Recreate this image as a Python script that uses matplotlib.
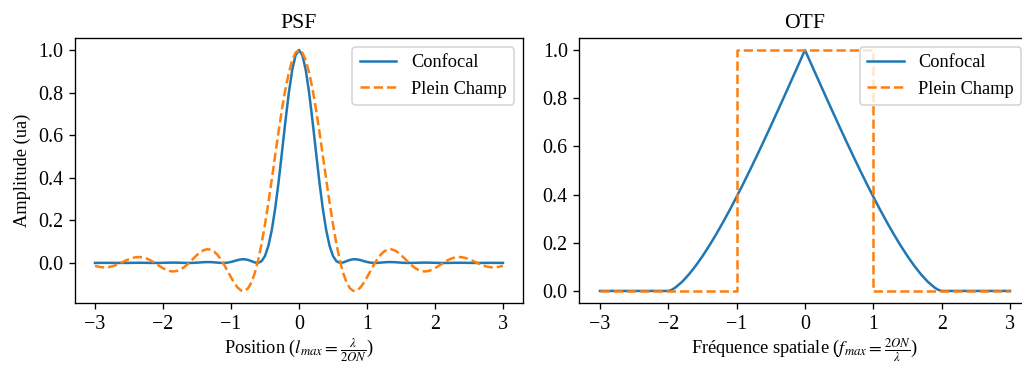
import numpy as np
import matplotlib
matplotlib.use("Agg")
import matplotlib.pyplot as plt

plt.rcParams["font.family"] = ["Liberation Serif", "DejaVu Serif"]
plt.rcParams["mathtext.fontset"] = "stix"
plt.rcParams["xtick.labelsize"] = 12
plt.rcParams["ytick.labelsize"] = 12
plt.rcParams["axes.labelsize"] = 11
plt.rcParams["legend.fontsize"] = 11

# ---- PSF (amplitude), sampled every 0.05 from -3 to 3 ----
psf_x = np.linspace(-3.0, 3.0, 121)

psf_widefield = [
    -0.0135, -0.0176, -0.0202, -0.0209, -0.0195, -0.0161, -0.0108, -0.0042, 0.0032, 0.0108,
    0.0177, 0.0233, 0.0268, 0.0279, 0.0262, 0.0218, 0.0149, 0.0059, -0.0043, -0.0148,
    -0.0246, -0.0326, -0.0381, -0.0400, -0.0380, -0.0320, -0.0222, -0.0092, 0.0060, 0.0221,
    0.0375, 0.0507, 0.0601, 0.0644, 0.0624, 0.0538, 0.0385, 0.0171, -0.0091, -0.0381,
    -0.0677, -0.0947, -0.1164, -0.1296, -0.1315, -0.1195, -0.0920, -0.0476, 0.0134, 0.0903,
    0.1812, 0.2833, 0.3929, 0.5057, 0.6170, 0.7217, 0.8152, 0.8930, 0.9515, 0.9877,
    1.0000,
    0.9877, 0.9515, 0.8930, 0.8152, 0.7217, 0.6170, 0.5057, 0.3929, 0.2833, 0.1812,
    0.0903, 0.0134, -0.0476, -0.0920, -0.1195, -0.1315, -0.1296, -0.1164, -0.0947, -0.0677,
    -0.0381, -0.0091, 0.0171, 0.0385, 0.0538, 0.0624, 0.0644, 0.0601, 0.0507, 0.0375,
    0.0221, 0.0060, -0.0092, -0.0222, -0.0320, -0.0380, -0.0400, -0.0381, -0.0326, -0.0246,
    -0.0148, -0.0043, 0.0059, 0.0149, 0.0218, 0.0262, 0.0279, 0.0268, 0.0233, 0.0177,
    0.0108, 0.0032, -0.0042, -0.0108, -0.0161, -0.0195, -0.0209, -0.0202, -0.0176, -0.0135,
]

psf_confocal = [
    0.0002, 0.0003, 0.0004, 0.0004, 0.0004, 0.0003, 0.0001, 0.0000, 0.0000, 0.0001,
    0.0003, 0.0005, 0.0007, 0.0008, 0.0007, 0.0005, 0.0002, 0.0000, 0.0000, 0.0002,
    0.0006, 0.0011, 0.0014, 0.0016, 0.0014, 0.0010, 0.0005, 0.0001, 0.0000, 0.0005,
    0.0014, 0.0026, 0.0036, 0.0041, 0.0039, 0.0029, 0.0015, 0.0003, 0.0001, 0.0015,
    0.0046, 0.0090, 0.0136, 0.0168, 0.0173, 0.0143, 0.0085, 0.0023, 0.0002, 0.0082,
    0.0328, 0.0803, 0.1544, 0.2558, 0.3806, 0.5209, 0.6645, 0.7975, 0.9053, 0.9756,
    1.0000,
    0.9756, 0.9053, 0.7975, 0.6645, 0.5209, 0.3806, 0.2558, 0.1544, 0.0803, 0.0328,
    0.0082, 0.0002, 0.0023, 0.0085, 0.0143, 0.0173, 0.0168, 0.0136, 0.0090, 0.0046,
    0.0015, 0.0001, 0.0003, 0.0015, 0.0029, 0.0039, 0.0041, 0.0036, 0.0026, 0.0014,
    0.0005, 0.0000, 0.0001, 0.0005, 0.0010, 0.0014, 0.0016, 0.0014, 0.0011, 0.0006,
    0.0002, 0.0000, 0.0000, 0.0002, 0.0005, 0.0007, 0.0008, 0.0007, 0.0005, 0.0003,
    0.0001, 0.0000, 0.0000, 0.0001, 0.0003, 0.0004, 0.0004, 0.0004, 0.0003, 0.0002,
]

# ---- OTF ----
otf_confocal_f = [
    -3.0, -2.0, -1.95, -1.9, -1.8, -1.7, -1.6, -1.5, -1.4, -1.3, -1.2, -1.1, -1.0,
    -0.9, -0.8, -0.7, -0.6, -0.5, -0.4, -0.3, -0.2, -0.1, 0.0,
    0.1, 0.2, 0.3, 0.4, 0.5, 0.6, 0.7, 0.8, 0.9, 1.0,
    1.1, 1.2, 1.3, 1.4, 1.5, 1.6, 1.7, 1.8, 1.9, 1.95, 2.0, 3.0,
]
otf_confocal = [
    0.0, 0.0, 0.0047, 0.0133, 0.0374, 0.0681, 0.1041, 0.1443, 0.1881, 0.2351, 0.2848, 0.3368, 0.3910,
    0.4470, 0.5046, 0.5637, 0.6238, 0.6850, 0.7471, 0.8097, 0.8729, 0.9364, 1.0,
    0.9364, 0.8729, 0.8097, 0.7471, 0.6850, 0.6238, 0.5637, 0.5046, 0.4470, 0.3910,
    0.3368, 0.2848, 0.2351, 0.1881, 0.1443, 0.1041, 0.0681, 0.0374, 0.0133, 0.0047, 0.0, 0.0,
]
otf_widefield_f = [-3.0, -1.0, -1.0, 1.0, 1.0, 3.0]
otf_widefield = [0.0, 0.0, 1.0, 1.0, 0.0, 0.0]

labels = ["Confocal", "Plein Champ"]

fig = plt.figure(figsize=(1022 / 120, 365 / 120), dpi=120)
ax1 = fig.add_axes([0.0730, 0.1699, 0.4391, 0.7260])
ax2 = fig.add_axes([0.5670, 0.1699, 0.4413, 0.7260])

ax1.plot(psf_x, psf_confocal, color="#1f77b4", lw=1.5, label=labels[0])
ax1.plot(psf_x, psf_widefield, color="#ff7f0e", lw=1.5, ls="--", label=labels[1])
ax1.set_title("PSF", fontsize=13)
ax1.set_xlabel(r"Position ($l_{max} = \frac{\lambda}{2ON}$)", labelpad=1.5)
ax1.set_ylabel("Amplitude (ua)")
ax1.set_xticks([-3, -2, -1, 0, 1, 2, 3])
ax1.set_yticks([0.0, 0.2, 0.4, 0.6, 0.8, 1.0])
ax1.legend(loc="upper right")

ax2.plot(otf_confocal_f, otf_confocal, color="#1f77b4", lw=1.5, label=labels[0])
ax2.plot(otf_widefield_f, otf_widefield, color="#ff7f0e", lw=1.5, ls="--", label=labels[1])
ax2.set_title("OTF", fontsize=13)
ax2.set_xlabel(r"Fréquence spatiale ($f_{max} = \frac{2ON}{\lambda}$)", labelpad=1.5)
ax2.set_xticks([-3, -2, -1, 0, 1, 2, 3])
ax2.set_yticks([0.0, 0.2, 0.4, 0.6, 0.8, 1.0])
ax2.legend(loc="upper right")

fig.savefig("out.png", dpi=120)
